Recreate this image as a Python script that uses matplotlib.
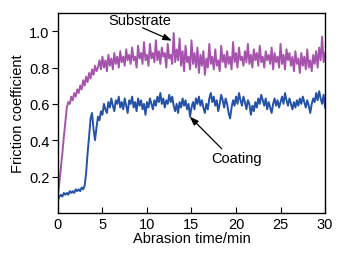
import numpy as np
import matplotlib.pyplot as plt

substrate = [
    0.10, 0.17, 0.25, 0.33, 0.42, 0.50, 0.58, 0.61, 0.60, 0.64, 0.62, 0.66,
    0.64, 0.68, 0.66, 0.70, 0.68, 0.73, 0.70, 0.75, 0.72, 0.77, 0.74, 0.79,
    0.76, 0.81, 0.78, 0.80, 0.84, 0.79, 0.86, 0.80, 0.84, 0.78, 0.87, 0.81,
    0.85, 0.79, 0.88, 0.82, 0.86, 0.80, 0.89, 0.83, 0.86, 0.81, 0.90, 0.84,
    0.87, 0.82, 0.91, 0.84, 0.86, 0.80, 0.92, 0.85, 0.88, 0.82, 0.94, 0.84,
    0.87, 0.81, 0.93, 0.85, 0.88, 0.83, 0.95, 0.84, 0.89, 0.82, 0.91, 0.86,
    0.88, 0.80, 0.93, 0.85, 0.87, 0.82, 0.99, 0.83, 0.90, 0.84, 0.96, 0.81,
    0.89, 0.78, 0.92, 0.83, 0.86, 0.79, 0.95, 0.82, 0.88, 0.80, 0.91, 0.77,
    0.87, 0.81, 0.89, 0.76, 0.85, 0.80, 0.93, 0.82, 0.86, 0.79, 0.90, 0.81,
    0.84, 0.78, 0.92, 0.83, 0.87, 0.80, 0.89, 0.82, 0.86, 0.79, 0.94, 0.83,
    0.88, 0.80, 0.91, 0.84, 0.86, 0.81, 0.89, 0.83, 0.93, 0.82, 0.87, 0.80,
    0.90, 0.84, 0.88, 0.81, 0.92, 0.83, 0.86, 0.80, 0.89, 0.84, 0.87, 0.82,
    0.91, 0.79, 0.88, 0.83, 0.86, 0.80, 0.93, 0.82, 0.87, 0.79, 0.90, 0.84,
    0.88, 0.81, 0.86, 0.78, 0.89, 0.82, 0.85, 0.77, 0.88, 0.81, 0.86, 0.79,
    0.90, 0.80, 0.84, 0.78, 0.87, 0.82, 0.89, 0.80, 0.91, 0.84, 0.97, 0.83,
    0.88,
]
coating = [
    0.07, 0.09, 0.10, 0.09, 0.11, 0.10, 0.11, 0.10, 0.12, 0.11, 0.12, 0.11,
    0.13, 0.12, 0.13, 0.12, 0.14, 0.13, 0.15, 0.22, 0.33, 0.42, 0.52, 0.55,
    0.46, 0.40, 0.47, 0.53, 0.51, 0.56, 0.54, 0.60, 0.57, 0.55, 0.61, 0.58,
    0.63, 0.59, 0.56, 0.62, 0.60, 0.64, 0.58, 0.61, 0.57, 0.63, 0.59, 0.55,
    0.62, 0.60, 0.64, 0.58, 0.61, 0.56, 0.63, 0.59, 0.62, 0.57, 0.60, 0.54,
    0.61, 0.58, 0.63, 0.60, 0.57, 0.62, 0.59, 0.64, 0.61, 0.66, 0.60, 0.63,
    0.58, 0.62, 0.60, 0.65, 0.61, 0.64, 0.59, 0.56, 0.60, 0.55, 0.61, 0.58,
    0.63, 0.59, 0.62, 0.57, 0.60, 0.53, 0.58, 0.61, 0.57, 0.63, 0.60, 0.64,
    0.59, 0.62, 0.58, 0.55, 0.60, 0.57, 0.63, 0.66, 0.61, 0.64, 0.59, 0.62,
    0.56, 0.60, 0.65, 0.62, 0.58, 0.63, 0.60, 0.55, 0.52, 0.58, 0.62, 0.59,
    0.64, 0.60, 0.66, 0.62, 0.59, 0.64, 0.61, 0.57, 0.62, 0.60, 0.54, 0.59,
    0.56, 0.61, 0.58, 0.63, 0.60, 0.65, 0.62, 0.59, 0.63, 0.57, 0.61, 0.58,
    0.55, 0.60, 0.63, 0.59, 0.62, 0.58, 0.61, 0.64, 0.60, 0.66, 0.62, 0.59,
    0.63, 0.60, 0.57, 0.61, 0.58, 0.62, 0.59, 0.63, 0.60, 0.64, 0.61, 0.58,
    0.62, 0.59, 0.55, 0.60, 0.63, 0.61, 0.66, 0.62, 0.67, 0.63, 0.60, 0.65,
    0.58,
]
xticks = [0, 5, 10, 15, 20, 25, 30]
yticks = [0.2, 0.4, 0.6, 0.8, 1.0]

plt.rcParams['font.family'] = ['Liberation Sans', 'DejaVu Sans']
plt.rcParams['font.size'] = 10.5

fig = plt.figure(figsize=(3.62, 2.55), dpi=100)
ax = fig.add_axes([0.160, 0.161, 0.738, 0.784])

t_sub = np.linspace(0, 30, len(substrate))
t_coat = np.linspace(0, 30, len(coating))
ax.plot(t_sub, substrate, color='#a653ae', linewidth=1.4)
ax.plot(t_coat, coating, color='#2452a8', linewidth=1.4)

ax.set_xlim(0, 30)
ax.set_ylim(0, 1.1)
ax.set_xticks(xticks)
ax.set_yticks(yticks)
ax.set_yticklabels([f'{v:.1f}' for v in yticks])
ax.tick_params(axis='x', direction='in', length=4, width=0.8, pad=3)
ax.tick_params(axis='y', direction='out', length=4, width=0.8, pad=2)
for s in ax.spines.values():
    s.set_linewidth(1.0)

ax.set_xlabel('Abrasion time/min', labelpad=0)
ax.set_ylabel('Friction coefficient', labelpad=3)

# labels and arrows
arrow = dict(arrowstyle='-|>,head_length=0.5,head_width=0.18',
             color='black', lw=0.9, shrinkA=0, shrinkB=0)
ax.text(9.18, 1.06, 'Substrate', ha='center', va='center')
ax.annotate('', xy=(12.8, 0.948), xytext=(9.5, 1.019), arrowprops=arrow)
ax.text(20.05, 0.30, 'Coating', ha='center', va='center')
ax.annotate('', xy=(14.8, 0.53), xytext=(18.4, 0.353), arrowprops=arrow)

fig.savefig('out.png', dpi=100)
